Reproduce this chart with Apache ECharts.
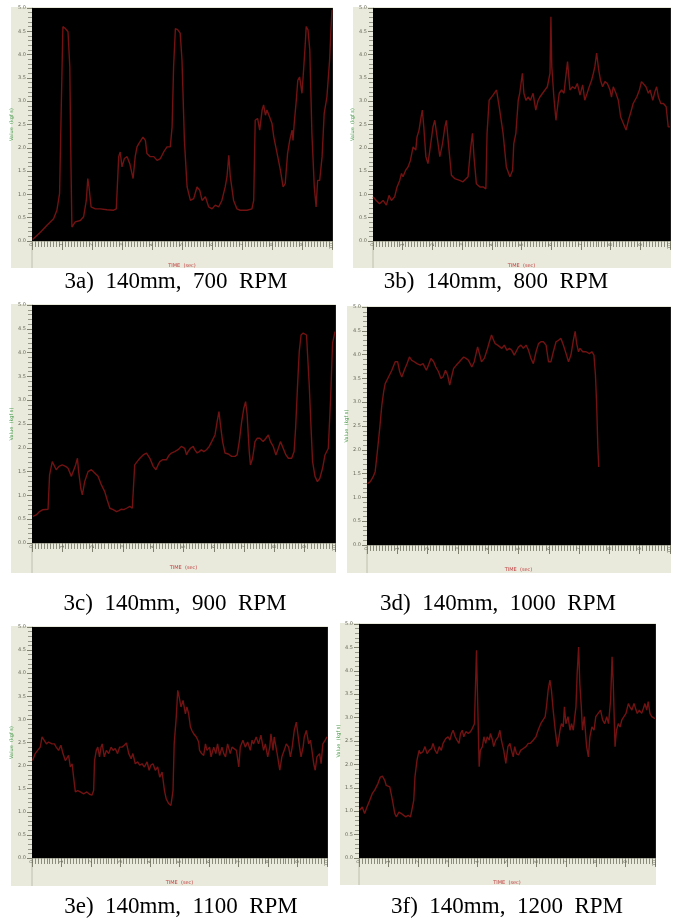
<!DOCTYPE html>
<html><head><meta charset="utf-8">
<script src="https://cdn.jsdelivr.net/npm/echarts@6/dist/echarts.min.js"></script>
<style>html,body{margin:0;padding:0;background:#fff}#c{width:677px;height:918px}</style>
</head><body><div id="c"></div>
<script>
// ---- data (time in s) ----
const captions = ['3a)  140mm,  700  RPM','3b)  140mm,  800  RPM','3c)  140mm,  900  RPM','3d)  140mm,  1000  RPM','3e)  140mm,  1100  RPM','3f)  140mm,  1200  RPM'];
const yTicks = [0,0.5,1,1.5,2,2.5,3,3.5,4,4.5,5];
const xTicks = [0,1,2,3,4,5,6,7,8,9,10];

const time3a = [0.02,0.28,0.50,0.72,0.83,0.92,0.98,1.03,1.11,1.20,1.26,1.30,1.33,1.44,1.61,1.72,1.81,1.86,1.90,1.97,2.11,2.28,2.50,2.72,2.81,2.89,2.94,3.00,3.08,3.17,3.26,3.37,3.44,3.50,3.56,3.61,3.70,3.78,3.83,3.94,4.06,4.17,4.28,4.39,4.50,4.61,4.67,4.72,4.78,4.86,4.94,5.00,5.08,5.17,5.28,5.39,5.50,5.59,5.67,5.78,5.89,6.00,6.11,6.22,6.33,6.44,6.50,6.56,6.61,6.72,6.83,6.94,7.17,7.33,7.39,7.44,7.52,7.59,7.67,7.72,7.78,7.83,7.92,8.00,8.06,8.17,8.28,8.37,8.44,8.52,8.59,8.67,8.70,8.74,8.81,8.86,8.92,9.00,9.06,9.11,9.14,9.20,9.26,9.33,9.41,9.47,9.52,9.59,9.67,9.74,9.83,9.92,9.97,10.00];
const value3a = [0.03,0.19,0.34,0.48,0.66,1.02,3.02,4.60,4.56,4.49,3.74,1.59,0.30,0.41,0.44,0.52,0.87,1.34,1.16,0.73,0.69,0.69,0.67,0.66,0.69,1.81,1.91,1.59,1.77,1.81,1.66,1.34,1.81,2.02,2.09,2.13,2.23,2.16,1.88,1.81,1.81,1.73,1.77,1.91,2.02,2.02,2.45,3.74,4.56,4.53,4.46,3.88,2.16,1.16,0.87,0.91,1.16,1.09,0.87,0.95,0.73,0.69,0.77,0.73,0.87,1.16,1.38,1.84,1.38,0.87,0.69,0.66,0.66,0.69,0.87,2.59,2.63,2.38,2.81,2.92,2.70,2.81,2.66,2.52,2.23,1.88,1.52,1.16,1.23,1.88,2.16,2.38,2.16,2.52,3.02,3.45,3.52,3.17,3.74,4.24,4.60,4.53,4.10,2.31,1.16,0.73,1.30,1.30,1.81,2.74,3.09,3.88,4.60,4.96];

const time3b = [0.00,0.11,0.22,0.34,0.45,0.54,0.62,0.73,0.81,0.90,0.96,1.01,1.10,1.18,1.26,1.35,1.44,1.48,1.55,1.60,1.66,1.71,1.78,1.85,1.93,2.02,2.08,2.16,2.25,2.34,2.42,2.47,2.54,2.64,2.75,2.92,3.03,3.20,3.28,3.35,3.40,3.48,3.60,3.71,3.80,3.84,3.91,4.04,4.16,4.25,4.38,4.49,4.61,4.70,4.74,4.81,4.89,4.94,5.03,5.08,5.15,5.22,5.30,5.39,5.48,5.56,5.62,5.71,5.79,5.87,5.96,5.99,6.02,6.09,6.16,6.20,6.27,6.35,6.43,6.49,6.55,6.63,6.72,6.80,6.88,6.97,7.06,7.13,7.21,7.28,7.36,7.42,7.47,7.53,7.60,7.66,7.73,7.81,7.89,7.98,8.03,8.09,8.18,8.26,8.34,8.43,8.52,8.60,8.67,8.76,8.88,8.97,9.04,9.10,9.19,9.27,9.33,9.42,9.49,9.55,9.61,9.69,9.78,9.87,9.94,10.00];
const value3b = [0.95,0.87,0.80,0.87,0.77,0.98,0.87,0.95,1.16,1.30,1.45,1.38,1.52,1.59,1.73,2.02,1.95,2.23,2.38,2.59,2.81,2.45,1.81,1.66,2.02,2.45,2.59,2.23,1.81,2.09,2.45,2.59,2.09,1.41,1.34,1.30,1.27,1.38,1.95,2.31,1.81,1.23,1.16,1.16,1.12,2.31,3.02,3.13,3.24,2.88,2.31,1.59,1.38,1.52,2.09,2.31,3.02,3.17,3.60,3.17,3.02,3.09,3.02,3.17,2.81,3.02,3.09,3.17,3.24,3.31,3.60,4.81,3.74,3.09,2.59,2.81,3.17,3.24,3.17,3.52,3.85,3.24,3.31,3.27,3.38,3.13,3.35,3.02,3.17,3.31,3.45,3.60,3.74,4.03,3.67,3.45,3.31,3.42,3.38,3.24,3.09,3.31,3.17,3.02,2.66,2.52,2.38,2.59,2.74,2.95,3.09,3.24,3.42,3.38,3.31,3.17,3.24,3.02,3.20,3.31,3.09,2.95,2.95,2.88,2.45,2.45];

const time3c = [0.03,0.14,0.25,0.36,0.53,0.58,0.67,0.73,0.80,0.89,1.00,1.11,1.19,1.30,1.35,1.44,1.50,1.54,1.61,1.66,1.74,1.85,1.96,2.07,2.18,2.29,2.40,2.48,2.57,2.68,2.79,2.87,2.95,3.03,3.12,3.23,3.31,3.39,3.47,3.56,3.67,3.78,3.89,4.00,4.09,4.16,4.22,4.31,4.36,4.44,4.53,4.60,4.71,4.82,4.93,5.04,5.10,5.15,5.23,5.32,5.37,5.45,5.52,5.59,5.67,5.76,5.85,5.93,6.04,6.11,6.17,6.22,6.29,6.37,6.48,6.59,6.70,6.77,6.84,6.92,6.99,7.05,7.10,7.17,7.21,7.28,7.36,7.43,7.52,7.63,7.72,7.80,7.87,7.96,8.05,8.13,8.20,8.29,8.38,8.46,8.57,8.65,8.70,8.77,8.82,8.88,8.95,9.06,9.12,9.15,9.21,9.26,9.34,9.42,9.50,9.59,9.67,9.78,9.86,9.92,10.00];
const value3c = [0.56,0.59,0.66,0.70,0.71,1.43,1.71,1.75,1.54,1.61,1.64,1.61,1.57,1.40,1.40,1.64,1.78,1.50,1.15,1.01,1.29,1.50,1.54,1.47,1.40,1.22,1.08,0.91,0.73,0.70,0.66,0.68,0.71,0.70,0.73,0.77,0.73,1.64,1.71,1.78,1.85,1.89,1.78,1.61,1.54,1.64,1.71,1.75,1.71,1.75,1.85,1.89,1.92,1.96,2.03,1.99,1.85,1.92,1.99,2.03,1.96,1.89,1.92,1.96,1.92,1.96,2.03,2.13,2.27,2.55,2.76,2.48,2.13,1.89,1.87,1.82,1.82,1.85,2.13,2.55,2.83,2.97,2.69,1.92,1.64,1.78,2.13,2.20,2.20,2.13,2.20,2.27,2.13,2.03,1.85,1.99,2.13,1.99,1.85,1.78,1.78,1.92,2.41,3.39,4.02,4.37,4.41,4.37,4.37,3.32,2.41,1.71,1.40,1.29,1.36,1.57,1.85,1.99,3.11,4.20,4.44];

const time3d = [0.02,0.11,0.20,0.27,0.33,0.42,0.49,0.55,0.60,0.71,0.82,0.93,1.01,1.08,1.15,1.23,1.32,1.40,1.48,1.56,1.65,1.76,1.85,1.96,2.03,2.11,2.20,2.27,2.36,2.44,2.51,2.59,2.66,2.73,2.79,2.86,2.95,3.05,3.19,3.27,3.35,3.46,3.54,3.60,3.65,3.71,3.78,3.87,3.96,4.04,4.11,4.18,4.23,4.31,4.37,4.45,4.53,4.62,4.70,4.78,4.86,4.92,5.00,5.08,5.16,5.25,5.33,5.41,5.49,5.58,5.66,5.74,5.82,5.91,5.99,6.07,6.15,6.24,6.32,6.40,6.48,6.57,6.65,6.73,6.81,6.87,6.92,6.98,7.03,7.12,7.23,7.34,7.42,7.49,7.54,7.58,7.62,7.65];
const value3d = [1.29,1.33,1.43,1.54,1.89,2.45,2.94,3.22,3.39,3.53,3.67,3.85,3.85,3.64,3.53,3.67,3.81,3.95,3.88,3.85,3.81,3.78,3.81,3.67,3.78,3.92,3.85,3.74,3.64,3.50,3.53,3.67,3.57,3.36,3.53,3.71,3.78,3.85,3.95,3.92,3.88,3.74,3.85,4.02,4.16,4.02,3.85,3.92,4.09,4.27,4.41,4.30,4.23,4.20,4.16,4.13,4.20,4.09,4.13,4.09,3.99,4.02,4.16,4.20,4.13,4.20,4.09,3.92,3.81,4.06,4.23,4.27,4.27,4.20,3.85,3.85,4.06,4.27,4.30,4.34,4.20,4.02,3.85,3.99,4.30,4.49,4.23,4.06,4.13,4.06,4.06,4.02,4.06,3.99,3.57,2.94,2.03,1.64];

const time3e = [0.02,0.11,0.19,0.28,0.34,0.40,0.49,0.56,0.68,0.76,0.82,0.90,0.98,1.05,1.13,1.19,1.24,1.30,1.36,1.41,1.47,1.55,1.64,1.75,1.86,1.95,2.03,2.09,2.12,2.18,2.23,2.29,2.34,2.38,2.45,2.52,2.60,2.68,2.75,2.82,2.90,2.97,3.05,3.13,3.20,3.28,3.36,3.42,3.50,3.58,3.65,3.73,3.81,3.90,3.97,4.03,4.10,4.18,4.26,4.33,4.41,4.49,4.55,4.63,4.71,4.78,4.82,4.89,4.94,4.99,5.05,5.12,5.20,5.25,5.31,5.37,5.42,5.48,5.57,5.65,5.68,5.75,5.82,5.88,5.93,6.02,6.07,6.16,6.23,6.29,6.36,6.44,6.50,6.56,6.63,6.72,6.78,6.84,6.93,7.01,7.06,7.15,7.23,7.31,7.40,7.46,7.51,7.60,7.68,7.76,7.85,7.91,7.99,8.06,8.10,8.17,8.21,8.31,8.40,8.47,8.55,8.62,8.70,8.76,8.82,8.89,8.96,9.01,9.07,9.12,9.19,9.23,9.30,9.38,9.44,9.49,9.55,9.60,9.66,9.75,9.80,9.86,9.94,10.00];
const value3e = [2.11,2.26,2.33,2.40,2.62,2.58,2.47,2.51,2.47,2.47,2.40,2.33,2.44,2.26,2.11,2.15,2.22,1.97,2.04,1.75,1.43,1.46,1.43,1.39,1.43,1.38,1.36,1.46,2.11,2.33,2.40,2.19,2.40,2.47,2.19,2.33,2.26,2.40,2.33,2.37,2.26,2.40,2.40,2.44,2.49,2.26,2.15,2.26,2.04,2.08,2.01,2.04,1.97,2.08,1.90,2.01,2.04,1.90,1.97,1.75,1.86,1.46,1.28,1.18,1.14,1.46,2.47,3.05,3.63,3.48,3.27,3.41,3.12,3.27,3.12,2.84,2.76,2.69,2.62,2.51,2.33,2.26,2.22,2.47,2.33,2.40,2.19,2.40,2.26,2.47,2.22,2.40,2.26,2.19,2.47,2.26,2.40,2.40,2.33,1.97,2.40,2.55,2.40,2.51,2.33,2.55,2.47,2.62,2.47,2.66,2.33,2.47,2.19,2.40,2.69,2.33,2.62,2.26,1.90,2.19,2.33,2.47,2.40,2.19,2.40,2.76,2.94,2.69,2.40,2.19,2.40,2.62,2.76,2.47,2.55,2.33,2.04,1.90,2.19,2.26,2.04,2.47,2.55,2.62];

const time3f = [0.02,0.11,0.19,0.27,0.36,0.45,0.53,0.64,0.72,0.79,0.87,0.92,0.98,1.04,1.13,1.21,1.26,1.35,1.43,1.51,1.58,1.66,1.74,1.80,1.85,1.89,1.96,2.03,2.07,2.16,2.23,2.30,2.37,2.45,2.50,2.57,2.64,2.71,2.78,2.84,2.93,3.01,3.07,3.13,3.18,3.25,3.31,3.38,3.43,3.49,3.54,3.61,3.69,3.77,3.83,3.90,3.97,4.00,4.06,4.10,4.17,4.22,4.28,4.33,4.40,4.44,4.51,4.55,4.62,4.70,4.76,4.81,4.89,4.96,5.03,5.10,5.15,5.21,5.26,5.32,5.39,5.46,5.55,5.64,5.72,5.79,5.89,5.98,6.05,6.14,6.22,6.29,6.34,6.39,6.45,6.50,6.56,6.63,6.70,6.74,6.79,6.84,6.90,6.94,6.99,7.06,7.13,7.18,7.24,7.29,7.33,7.37,7.42,7.46,7.51,7.55,7.61,7.69,7.75,7.80,7.87,7.94,8.00,8.08,8.16,8.23,8.30,8.37,8.43,8.50,8.55,8.59,8.65,8.70,8.76,8.82,8.88,8.95,9.02,9.10,9.15,9.22,9.29,9.36,9.40,9.47,9.55,9.61,9.66,9.72,9.77,9.83,9.89,9.94,10.00];
const value3f = [1.02,1.09,0.95,1.09,1.23,1.38,1.45,1.59,1.73,1.75,1.66,1.55,1.52,1.52,1.23,0.95,0.88,0.98,0.95,0.91,0.88,0.91,0.88,0.91,1.23,1.73,2.09,2.30,2.23,2.27,2.38,2.23,2.30,2.34,2.45,2.30,2.23,2.38,2.30,2.45,2.55,2.59,2.52,2.66,2.73,2.59,2.52,2.45,2.66,2.73,2.59,2.70,2.66,2.70,2.77,2.87,4.44,3.59,1.95,2.30,2.38,2.59,2.45,2.59,2.52,2.66,2.52,2.38,2.52,2.59,2.73,2.52,2.30,2.02,2.38,2.45,2.30,2.16,2.38,2.23,2.20,2.30,2.34,2.38,2.45,2.45,2.52,2.59,2.73,2.87,2.95,3.02,3.27,3.59,3.80,3.59,3.16,2.73,2.38,2.52,2.73,2.87,2.80,3.23,2.87,3.02,2.73,2.87,2.73,3.02,3.23,3.94,4.51,3.73,3.23,2.73,3.02,2.38,2.16,2.59,2.80,2.73,3.02,3.09,3.16,2.95,2.87,3.02,2.87,3.37,4.30,3.73,2.38,2.73,2.87,2.80,2.95,3.02,3.09,3.30,3.23,3.16,3.30,3.16,3.09,3.16,3.09,3.20,3.30,3.16,3.34,3.09,3.02,3.05,2.98];

// ---- layout ----
const panels = [
  {t: time3a, v: value3a, grid:{left:32, top:8,   width:300, height:233}, frame:[11,7,322,261],   cap:[176,270]},
  {t: time3b, v: value3b, grid:{left:373,top:8,   width:297, height:233}, frame:[353,7,318,261],  cap:[496,270]},
  {t: time3c, v: value3c, grid:{left:32, top:305, width:303, height:238}, frame:[11,304,325,269], cap:[175,592]},
  {t: time3d, v: value3d, grid:{left:367,top:307, width:303, height:238}, frame:[347,306,324,267],cap:[498,592]},
  {t: time3e, v: value3e, grid:{left:32, top:627, width:295, height:231}, frame:[11,626,317,260], cap:[181,895]},
  {t: time3f, v: value3f, grid:{left:359,top:624, width:296, height:234}, frame:[340,623,316,262],cap:[507,895]}
];

const beige = '#e9e9dc';
const option = {
  animation: false,
  backgroundColor: '#ffffff',
  title: panels.map((p, i) => ({
    text: captions[i], left: p.cap[0], top: p.cap[1], textAlign: 'center', padding: 0,
    textStyle: {fontFamily: '"Liberation Serif", "DejaVu Serif", serif', fontSize: 23, fontWeight: 'normal', color: '#000'}
  })),
  grid: panels.map(p => Object.assign({show: true, backgroundColor: '#000', borderWidth: 0, z: 1}, p.grid)),
  xAxis: panels.map((p, i) => ({
    type: 'value', gridIndex: i, min: xTicks[0], max: xTicks[xTicks.length-1], interval: 1,
    name: 'TIME  (sec)', nameLocation: 'middle', nameGap: 22,
    nameTextStyle: {fontSize: 5, color: '#c04040', fontFamily: 'DejaVu Sans'},
    axisLine: {show: true, lineStyle: {color: '#b0b0a0', width: 1}},
    axisTick: {show: true, length: 9, lineStyle: {color: '#80806f', width: 1}},
    minorTick: {show: true, splitNumber: 10, length: 6, lineStyle: {color: '#8c8c7c', width: 1}},
    axisLabel: {show: true, rotate: 90, fontSize: 5, color: '#6a6a5a', margin: 2, fontFamily: 'DejaVu Sans'},
    splitLine: {show: true, lineStyle: {color: '#1a1a1a', width: 1}}
  })),
  yAxis: panels.map((p, i) => ({
    type: 'value', gridIndex: i, min: yTicks[0], max: yTicks[yTicks.length-1], interval: 0.5,
    name: 'Value  (kgf s)', nameLocation: 'middle', nameGap: 16, nameRotate: 90,
    nameTextStyle: {fontSize: 5, color: '#4a9a4a', fontFamily: 'DejaVu Sans'},
    axisLine: {show: true, lineStyle: {color: '#b0b0a0', width: 1}},
    axisTick: {show: true, length: 5, lineStyle: {color: '#80806f', width: 1}},
    minorTick: {show: true, splitNumber: 5, length: 4, lineStyle: {color: '#989888', width: 1}},
    axisLabel: {show: true, fontSize: 5, color: '#6a6a5a', margin: 6, formatter: v => v.toFixed(1), fontFamily: 'DejaVu Sans'},
    splitLine: {show: true, lineStyle: {color: '#1a1a1a', width: 1}}
  })),
  series: panels.map((p, i) => ({
    type: 'line', xAxisIndex: i, yAxisIndex: i, showSymbol: false, symbol: 'none',
    lineStyle: {color: '#721212', width: 1.4}, z: 5,
    data: p.t.map((x, k) => [x, p.v[k]])
  })),
  graphic: panels.map(p => ({
    type: 'group', z: -10, children: [
      {type: 'rect', z: -10, shape: {x: p.frame[0], y: p.frame[1], width: p.frame[2], height: p.frame[3]}, style: {fill: beige}},
      {type: 'line', z: -9, shape: {x1: p.grid.left, y1: p.grid.top + p.grid.height, x2: p.grid.left, y2: p.frame[1] + p.frame[3]}, style: {stroke: '#c0c0b0', lineWidth: 1}}
    ]
  }))
};
const chart = echarts.init(document.getElementById('c'), null, {renderer: 'canvas'});
chart.setOption(option);
</script></body></html>
